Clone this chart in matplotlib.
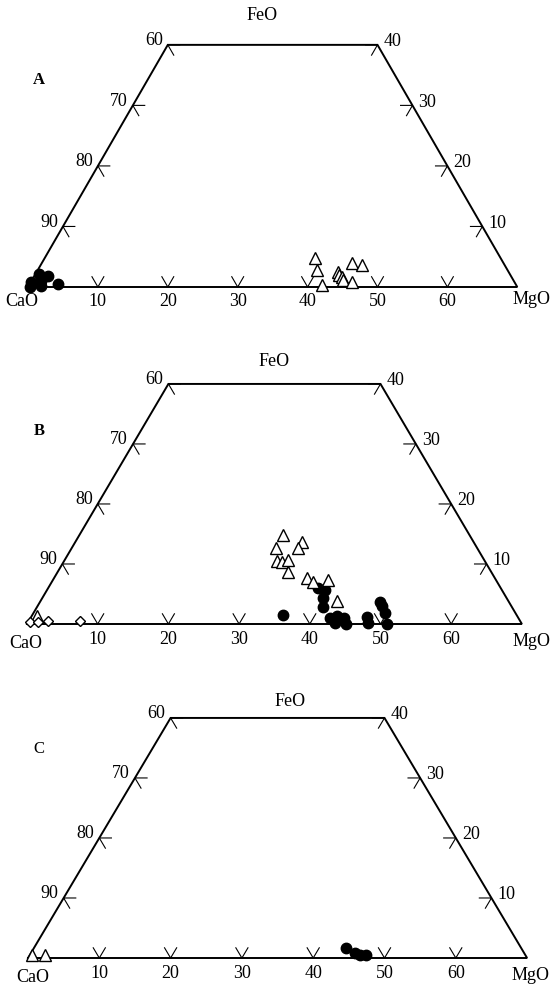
import numpy as np
import matplotlib.pyplot as plt

plt.rcParams['font.family'] = ['Liberation Serif', 'DejaVu Serif']

# tick values on the three edges of the truncated CaO-FeO-MgO triangle
left_ticks = [90, 80, 70, 60]            # CaO, along CaO-FeO edge
bottom_ticks = [10, 20, 30, 40, 50, 60]  # MgO, along CaO-MgO edge
right_ticks = [10, 20, 30, 40]           # FeO, along the CaO=30 line

# panel A  (wt% MgO / FeO)
a_circ_mgo = [0.5, 1.3, 0.0, 0.3, 1.8, 2.0, 4.0]
a_circ_feo = [2.2, 1.0, 0.8, 0.0, 0.2, 1.8, 0.5]
a_tri_mgo = [38.7, 39.9, 41.9, 43.1, 43.5, 44.0, 44.4, 44.4, 46.0, 45.9]
a_tri_feo = [4.8, 2.8, 0.4, 2.5, 2.0, 1.7, 1.2, 4.0, 3.6, 0.8]

# panel B
b_circ_mgo = [38.2, 39.3, 39.7, 40.5, 42.4, 43.2, 44.3, 45.1, 43.5, 35.5,
              47.5, 48.1, 48.1, 48.7, 49.7, 50.9]
b_circ_feo = [6.0, 5.7, 4.3, 2.8, 1.0, 1.3, 1.0, 0.0, 0.2, 1.5,
              1.2, 0.2, 3.7, 3.0, 1.8, 0.0]
b_tri_mgo = [28.8, 28.9, 32.1, 32.0, 30.1, 30.9, 31.6, 32.6, 35.8, 37.0,
             38.9, 41.9, 0.8]
b_tri_feo = [14.8, 12.7, 13.7, 12.7, 10.5, 10.3, 10.7, 8.7, 7.7, 7.0,
             7.3, 3.8, 1.3]
b_dia_mgo = [0.3, 1.3, 2.7, 7.2]
b_dia_feo = [0.3, 0.4, 0.5, 0.5]

# panel C
c_circ_mgo = [43.8, 45.4, 46.3, 47.2]
c_circ_feo = [1.7, 0.8, 0.5, 0.5]
c_tri_mgo = [0.3, 2.1]
c_tri_feo = [0.5, 0.5]

R3 = np.sqrt(3) / 2
W, H = 553, 994


def tern(mgo, feo):
    mgo = np.asarray(mgo, float)
    feo = np.asarray(feo, float)
    return mgo + feo / 2, feo * R3


fig = plt.figure(figsize=(W / 100, H / 100), dpi=100)

# pixel layout: CaO corner (x0, y0), x/y scale px per unit, band top/bottom
layout = [
    dict(x0=28, y0=287, sx=6.99, sy=6.99, top=0, bot=320, letter='A', bold=True,
         feo_x=33.5, feo_dy=29, cao=(-6, -14), mgo=(14, -13)),
    dict(x0=27, y0=624, sx=7.07, sy=6.93, top=320, bot=660, letter='B', bold=True,
         feo_x=34.9, feo_dy=22, cao=(-1, -19), mgo=(10, -17)),
    dict(x0=28, y0=958, sx=7.13, sy=6.93, top=660, bot=994, letter='C', bold=False,
         feo_x=36.7, feo_dy=16, cao=(5, -20), mgo=(3, -17)),
]

panels = [
    dict(circ=(a_circ_mgo, a_circ_feo), tri=(a_tri_mgo, a_tri_feo)),
    dict(circ=(b_circ_mgo, b_circ_feo), tri=(b_tri_mgo, b_tri_feo),
         dia=(b_dia_mgo, b_dia_feo)),
    dict(circ=(c_circ_mgo, c_circ_feo), tri=(c_tri_mgo, c_tri_feo)),
]

fs = 13
stub = 1.7

for lay, pan in zip(layout, panels):
    ax = fig.add_axes([0, 1 - lay['bot'] / H, 1, (lay['bot'] - lay['top']) / H])
    ax.set_xlim(-lay['x0'] / lay['sx'], (W - lay['x0']) / lay['sx'])
    ax.set_ylim((lay['y0'] - lay['bot']) / lay['sy'], (lay['y0'] - lay['top']) / lay['sy'])
    ax.axis('off')

    # outline
    ox, oy = tern([0, 70, 30, 0, 0], [0, 0, 40, 40, 0])
    ax.plot(ox, oy, color='black', lw=1.4, solid_joinstyle='miter', zorder=2)

    # left edge ticks (CaO)
    for c in left_ticks:
        f = 100 - c
        px, py = tern([stub, 0, stub], [f, f, f - stub])
        ax.plot(px, py, color='black', lw=0.8)
        tx, ty = tern(0, f)
        ax.annotate(str(c), (tx, ty), xytext=(-5, 4), textcoords='offset pixels',
                    ha='right', va='center', fontsize=fs)
    # bottom ticks (MgO)
    for m in bottom_ticks:
        px, py = tern([m - stub, m, m], [stub, 0, stub])
        ax.plot(px, py, color='black', lw=0.8)
        tx, ty = tern(m, 0)
        ax.annotate(str(m), (tx, ty), xytext=(0, -15), textcoords='offset pixels',
                    ha='center', va='center', fontsize=fs)
    # right edge ticks (FeO)
    for f in right_ticks:
        m = 70 - f
        px, py = tern([m - stub, m, m], [f, f, f - stub])
        ax.plot(px, py, color='black', lw=0.8)
        tx, ty = tern(m, f)
        ax.annotate(str(f), (tx, ty), xytext=(6, 3), textcoords='offset pixels',
                    ha='left', va='center', fontsize=fs)

    # corner names
    ax.annotate('CaO', (0, 0), xytext=lay['cao'], textcoords='offset pixels',
                ha='center', va='center', fontsize=fs)
    mx, my = tern(70, 0)
    ax.annotate('MgO', (mx, my), xytext=lay['mgo'], textcoords='offset pixels',
                ha='center', va='center', fontsize=fs)
    ax.annotate('FeO', (lay['feo_x'], 40 * R3), xytext=(0, lay['feo_dy']),
                textcoords='offset pixels', ha='center', va='center', fontsize=fs)

    # data
    cx, cy = tern(*pan['circ'])
    ax.plot(cx, cy, 'o', color='black', ms=7.5, zorder=3)
    tx, ty = tern(*pan['tri'])
    ax.plot(tx, ty, '^', mfc='white', mec='black', mew=1.0, ms=8, zorder=4)
    if 'dia' in pan:
        dx, dy = tern(*pan['dia'])
        ax.plot(dx, dy, 'D', mfc='white', mec='black', mew=1.0, ms=5, zorder=4)

    fig.text(39 / W, 1 - (lay['top'] + (80, 111, 89)[layout.index(lay)]) / H,
             lay['letter'], ha='center', va='center', fontsize=12,
             fontweight='bold' if lay['bold'] else 'normal')

fig.savefig('out.png', dpi=100, facecolor='white')
